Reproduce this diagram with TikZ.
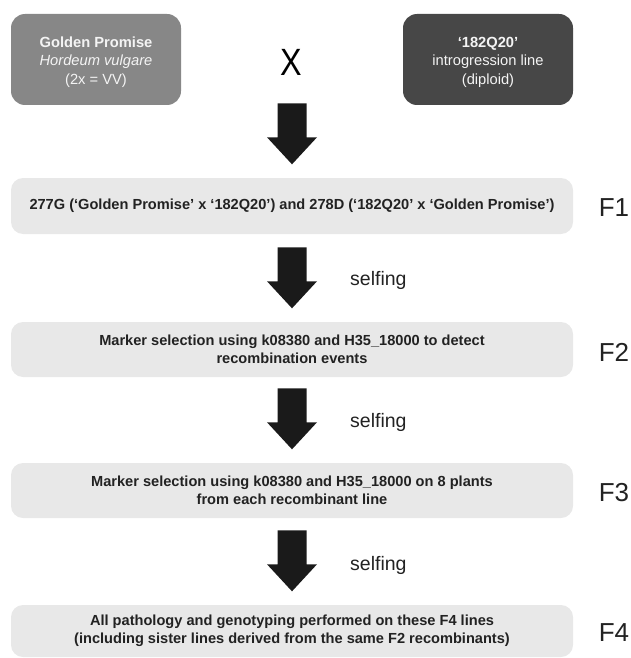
\documentclass[tikz,border=0pt]{standalone}
\usepackage{fontspec}
\setmainfont{Liberation Sans}
\usetikzlibrary{calc}
\definecolor{flowgray}{HTML}{E8E8E8}
\definecolor{lightbox}{HTML}{878787}
\definecolor{darkbox}{HTML}{474747}
\definecolor{arrowblack}{HTML}{1A1A1A}
\definecolor{txtdark}{HTML}{222222}
\definecolor{txtlight}{HTML}{F4F4F4}
\tikzset{
  parentbox/.style={rounded corners=14pt, minimum width=170pt, minimum height=91pt, inner sep=0pt},
  parenttext/.style={inner sep=0pt, align=center, text=txtlight, font=\fontsize{14.7}{18.5}\selectfont},
  flowbox/.style={fill=flowgray, rounded corners=12pt, minimum width=562pt, minimum height=55pt,
    inner sep=0pt, align=center, text=txtdark, font=\bfseries\fontsize{14.6}{18}\selectfont},
  genlabel/.style={font=\fontsize{26}{26}\selectfont, text=txtdark, inner sep=0pt},
  selflabel/.style={font=\fontsize{19.5}{20}\selectfont, text=txtdark, anchor=west, inner sep=0pt},
  crosslabel/.style={font=\fontsize{38}{38}\selectfont, text=black, inner sep=0pt, xscale=0.85},
  arrowfill/.style={fill=arrowblack},
}
\newcommand\flowarrow[2]{%
  \fill[arrowfill] ($(#2.north)+(0,-13.5)$) -- ++(25,-27) -- ++(-10.5,0) -- ++(0,-34)
    -- ++(-29,0) -- ++(0,34) -- ++(-10.5,0) -- cycle;}
\begin{document}
\begin{tikzpicture}[x=1pt,y=-1pt]
\useasboundingbox (0,0) rectangle (631,658);
\node[parentbox, fill=lightbox] (gp) at (96,59.5) {};
\node[parenttext] (gpt) at (96,62)
  {\textbf{Golden Promise}\\\textit{Hordeum vulgare}\\(2x = VV)};
\node[parentbox, fill=darkbox] (q) at (488,59.5) {};
\node[parenttext] (qt) at (488,62)
  {\textbf{‘182Q20’}\\introgression line\\(diploid)};
\node[crosslabel] (cross) at (291,62) {X};

\node[flowbox, minimum height=56pt] (f1) at (292,206)
  {277G (‘Golden Promise’ x ‘182Q20’) and 278D (‘182Q20’ x ‘Golden Promise’)};
\node[flowbox] (f2) at (292,349.5)
  {Marker selection using k08380 and H35\_18000 to detect\\recombination events};
\node[flowbox] (f3) at (292,490.5)
  {Marker selection using k08380 and H35\_18000 on 8 plants\\from each recombinant line};
\node[flowbox, minimum height=52pt] (f4) at (292,631)
  {All pathology and genotyping performed on these F4 lines\\(including sister lines derived from the same F2 recombinants)};

\node[genlabel] (l1) at (614,208) {F1};
\node[genlabel] (l2) at (614,352) {F2};
\node[genlabel] (l3) at (614,493) {F3};
\node[genlabel] (l4) at (614,633) {F4};

\node[selflabel] (s1) at (350,280) {selfing};
\node[selflabel] (s2) at (350,422) {selfing};
\node[selflabel] (s3) at (350,565) {selfing};

\flowarrow{cross}{f1}
\flowarrow{f1}{f2}
\flowarrow{f2}{f3}
\flowarrow{f3}{f4}
\end{tikzpicture}
\end{document}
